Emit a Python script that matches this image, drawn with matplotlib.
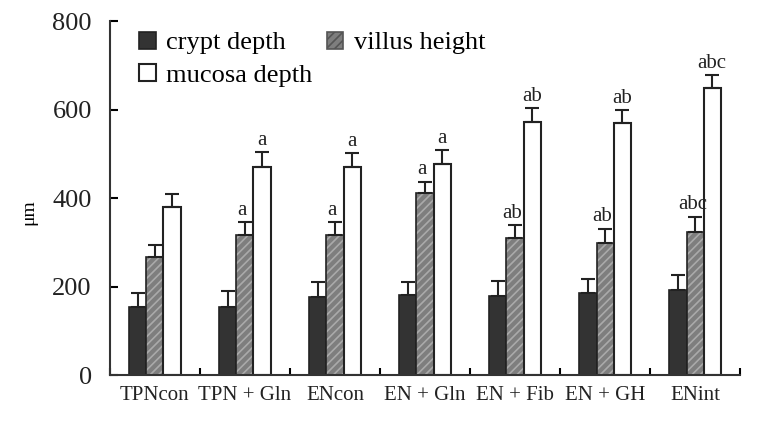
import matplotlib.pyplot as plt
import numpy as np
from matplotlib.patches import Patch

groups = ["TPNcon", "TPN+Gln", "ENcon", "EN+Gln", "EN+Fib", "EN+GH", "ENint"]
crypt = [154, 154, 177, 181, 179, 185, 192]
crypt_err = [31, 36, 34, 30, 34, 33, 34]
villus = [267, 316, 316, 411, 309, 298, 324]
villus_err = [28, 30, 30, 26, 30, 33, 34]
mucosa = [380, 471, 470, 478, 573, 569, 648]
mucosa_err = [29, 32, 32, 30, 30, 30, 30]
villus_marks = ["", "a", "a", "a", "ab", "ab", "abc"]
mucosa_marks = ["", "a", "a", "a", "ab", "ab", "abc"]

plt.rcParams["font.family"] = ["Liberation Serif", "DejaVu Serif"]
plt.rcParams["hatch.linewidth"] = 1.2

fig = plt.figure(figsize=(7.63, 4.21), dpi=100)
ax = fig.add_axes([0.144, 0.109, 0.826, 0.841])

x = np.arange(len(groups))
w = 0.19
err_kw = dict(ecolor="#222222", elinewidth=1.5, capsize=5, capthick=1.5)
zeros = np.zeros(len(groups))

ax.bar(x - w, crypt, w, color="#333333", edgecolor="#222222", linewidth=1.2,
       yerr=[zeros, crypt_err], error_kw=err_kw)
ax.bar(x, villus, w, color="#7e7e7e", edgecolor="#aaaaaa", hatch="////", linewidth=0)
ax.bar(x, villus, w, color="none", edgecolor="#222222", linewidth=1.2,
       yerr=[zeros, villus_err], error_kw=err_kw)
ax.bar(x + w, mucosa, w, color="white", edgecolor="#222222", linewidth=1.5,
       yerr=[zeros, mucosa_err], error_kw=err_kw)

for i in range(len(groups)):
    ax.text(x[i] - 0.03, villus[i] + villus_err[i] + 5, villus_marks[i],
            ha="center", va="bottom", fontsize=15, color="#222222")
    ax.text(x[i] + w, mucosa[i] + mucosa_err[i] + 5, mucosa_marks[i],
            ha="center", va="bottom", fontsize=15, color="#222222")

handles = [
    Patch(facecolor="#333333", edgecolor="#222222", linewidth=1.2),
    Patch(facecolor="white", edgecolor="#222222", linewidth=1.5),
    Patch(facecolor="#7e7e7e", edgecolor="#555555", hatch="////", linewidth=1.2),
]
labels = ["crypt depth", "mucosa depth", "villus height"]
ax.legend(handles, labels, loc="upper left", bbox_to_anchor=(0.03, 1.0), ncol=2,
          frameon=False, fontsize=19, handlelength=0.62, handleheight=0.62,
          handletextpad=0.4, columnspacing=0.55, labelspacing=0.35, borderaxespad=0)

ax.set_xlim(-0.5, len(groups) - 0.5)
ax.set_ylim(0, 800)
ax.set_yticks([0, 200, 400, 600, 800])
ax.set_xticks(x)
ax.set_xticklabels([g.replace("+", " + ") for g in groups], fontsize=15, color="#222222")
ax.set_xticks(np.arange(-0.5, len(groups)), minor=True)
ax.tick_params(axis="x", which="major", length=0, pad=8)
ax.tick_params(axis="x", which="minor", direction="in", length=5, width=1.5)
ax.tick_params(axis="y", direction="in", length=6, width=1.5, labelsize=19, pad=13,
               labelcolor="#222222")
ax.set_ylabel("μm", fontsize=14)
ax.yaxis.set_label_coords(-0.115, 0.46)

for s in ["top", "right"]:
    ax.spines[s].set_visible(False)
for s in ["left", "bottom"]:
    ax.spines[s].set_linewidth(1.5)
    ax.spines[s].set_color("#333333")

fig.savefig("out.png", dpi=100)
